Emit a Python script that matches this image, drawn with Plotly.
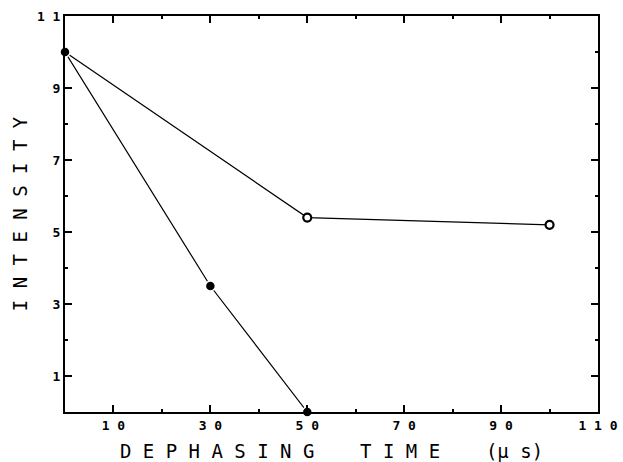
import plotly.graph_objects as go

# Data
time_open = [0, 50, 100]
intensity_open = [10.0, 5.4, 5.2]
time_filled = [0, 30, 50]
intensity_filled = [10.0, 3.5, 0.0]

x_tickvals = [10, 30, 50, 70, 90, 110]
x_ticktext = ["1 0", "3 0", "5 0", "7 0", "9 0", "1 1 0"]
x_minorvals = [20, 40, 60, 80, 100]
y_tickvals = [1, 3, 5, 7, 9, 11]
y_ticktext = ["1", "3", "5", "7", "9", "1 1"]
y_minorvals = [2, 4, 6, 8, 10]

mono = "DejaVu Sans Mono"

fig = go.Figure()
fig.add_trace(go.Scatter(
    x=time_open, y=intensity_open, mode="lines+markers",
    line=dict(color="black", width=1.2),
    marker=dict(symbol="circle", size=8, color="white",
                line=dict(color="black", width=2.2)),
    cliponaxis=False, showlegend=False))
fig.add_trace(go.Scatter(
    x=time_filled, y=intensity_filled, mode="lines+markers",
    line=dict(color="black", width=1.2),
    marker=dict(symbol="circle", size=10, color="black",
                line=dict(color="white", width=1.5)),
    cliponaxis=False, showlegend=False))

axis_common = dict(
    showline=True, linecolor="black", linewidth=2, mirror="ticks",
    ticks="inside", ticklen=7, tickwidth=2, tickcolor="black",
    showgrid=False, zeroline=False,
    tickfont=dict(family=mono, size=13, color="black", weight="bold"),
)

fig.update_xaxes(
    range=[0, 110], tickmode="array", tickvals=x_tickvals, ticktext=x_ticktext,
    minor=dict(tickmode="array", tickvals=x_minorvals, ticks="inside",
               ticklen=3, tickwidth=2, tickcolor="black"),
    title=dict(text="D E P H A S I N G    T I M E    (μ s)",
               font=dict(family=mono, size=19, color="black"), standoff=13),
    **axis_common)
fig.update_yaxes(
    range=[0, 11], tickmode="array", tickvals=y_tickvals, ticktext=y_ticktext,
    minor=dict(tickmode="array", tickvals=y_minorvals, ticks="inside",
               ticklen=3, tickwidth=2, tickcolor="black"),
    title=dict(text="I N T E N S I T Y",
               font=dict(family=mono, size=19, color="black"), standoff=4),
    **axis_common)

fig.update_layout(
    width=623, height=462,
    margin=dict(l=65, r=25, t=16, b=50, autoexpand=False),
    paper_bgcolor="white", plot_bgcolor="white",
)

fig.write_html("out.html")
